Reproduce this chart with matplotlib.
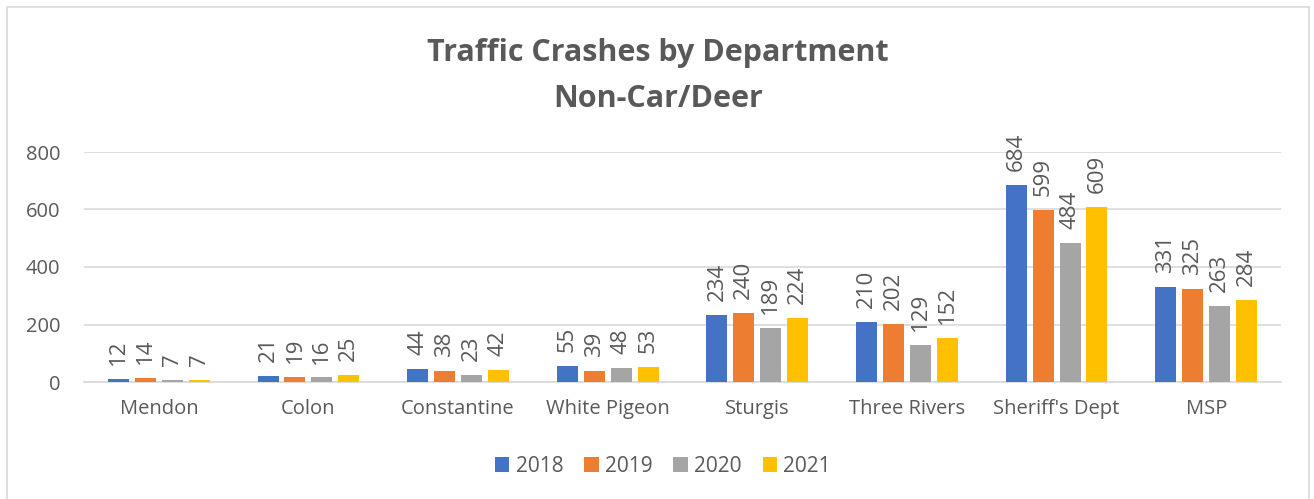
import numpy as np
import matplotlib.pyplot as plt
from matplotlib.patches import Rectangle

departments = ["Mendon", "Colon", "Constantine", "White Pigeon", "Sturgis",
               "Three Rivers", "Sheriff's Dept", "MSP"]
years = ["2018", "2019", "2020", "2021"]
crashes_2018 = [12, 21, 44, 55, 234, 210, 684, 331]
crashes_2019 = [14, 19, 38, 39, 240, 202, 599, 325]
crashes_2020 = [7, 16, 23, 48, 189, 129, 484, 263]
crashes_2021 = [7, 25, 42, 53, 224, 152, 609, 284]
series = [crashes_2018, crashes_2019, crashes_2020, crashes_2021]
colors = ["#4472C4", "#ED7D31", "#A5A5A5", "#FFC000"]
txt = "#595959"

plt.rcParams['font.family'] = ['Open Sans', 'DejaVu Sans']

fig = plt.figure(figsize=(13.14, 4.99), dpi=100)
# chart border
fig.patches.append(Rectangle((7/1314, -0.01), 1302/1314, 1 - 7/499 + 0.01,
                             transform=fig.transFigure, fill=False,
                             edgecolor="#D9D9D9", linewidth=1.2))

ax = fig.add_axes([84/1314, 1 - 382/499, 1197/1314, 230/499])
x = np.arange(len(departments))
step = 0.18
width = 0.14
for i, (vals, c) in enumerate(zip(series, colors)):
    pos = x + (i - 1.5) * step
    bars = ax.bar(pos, vals, width, color=c, label=years[i], zorder=3)
    for b, v in zip(bars, vals):
        ax.annotate(str(v), (b.get_x() + b.get_width() / 2, v),
                    xytext=(0, 10), textcoords="offset points",
                    rotation=90, ha="center", va="bottom",
                    fontsize=16, color=txt, annotation_clip=False)

ax.set_xlim(-0.5, len(departments) - 0.5)
ax.set_ylim(0, 800)
ax.set_yticks([0, 200, 400, 600, 800])
ax.set_xticks(x)
ax.set_xticklabels(departments)
ax.tick_params(axis="both", length=0, labelsize=14.5, colors=txt)
ax.tick_params(axis="x", pad=12)
ax.tick_params(axis="y", pad=17)
ax.grid(axis="y", color="#D9D9D9", linewidth=1.2, zorder=0)
for s in ["top", "right", "left"]:
    ax.spines[s].set_visible(False)
ax.spines["bottom"].set_color("#D9D9D9")
ax.spines["bottom"].set_linewidth(1.2)

fig.text(658/1314, 1 - 76/499, "Traffic Crashes by Department\nNon-Car/Deer",
         ha="center", va="center", fontsize=22, fontweight="bold", color=txt,
         linespacing=1.73)

fig.legend(loc="center", bbox_to_anchor=(663/1314, 1 - 466/499), ncol=4,
           frameon=False, fontsize=15, labelcolor=txt, handlelength=0.7,
           handleheight=0.7, handletextpad=0.3, columnspacing=1.0)

fig.savefig("out.png", dpi=100)
